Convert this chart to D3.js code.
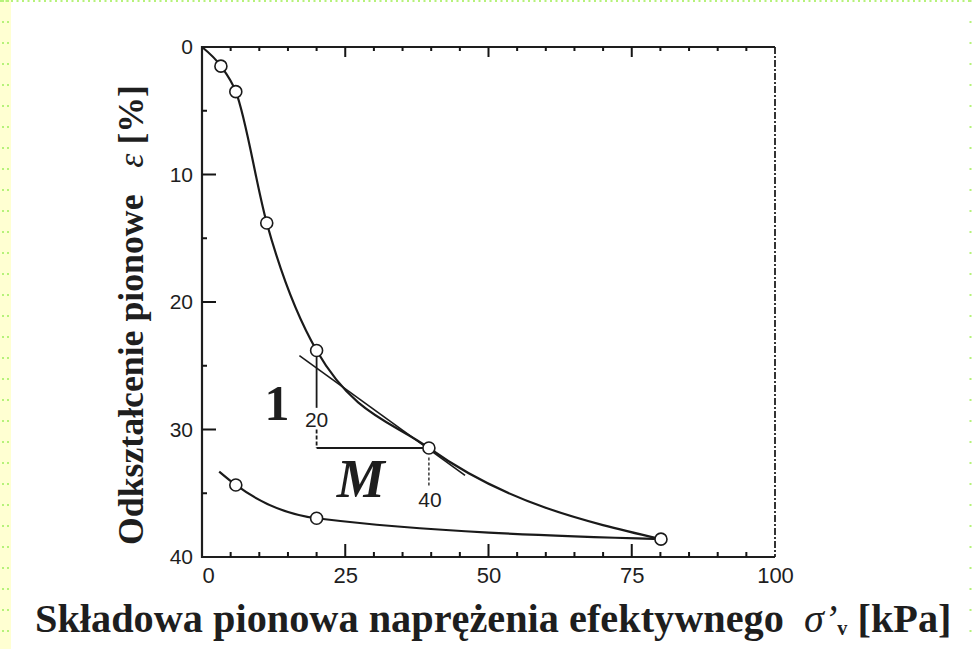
<!DOCTYPE html>
<html>
<head>
<meta charset="utf-8">
<script src="https://cdn.jsdelivr.net/npm/d3@7"></script>
<style>
  body { margin: 0; background: #fff; }
  text { fill: #1e1e1e; }
</style>
</head>
<body>
<div id="container"></div>
<script>
var width = 972, height = 649;

// loading curve (stress kPa, strain %)
var loadStress = [0, 3.3, 5.9, 11.3, 20.0, 39.6, 80.1];
var loadStrain = [0, 1.5, 3.5, 13.8, 23.8, 31.45, 38.6];
var loadMarked = [false, true, true, true, true, true, true];

// unloading curve
var unloadStress = [3.0, 5.9, 20.0, 80.1];
var unloadStrain = [33.3, 34.35, 36.96, 38.6];
var unloadMarked = [false, true, true, false];

// tangent at 40 kPa and the slope triangle
var tangentStress = [17.0, 45.9];
var tangentStrain = [24.2, 33.6];
var triStress = [20.0, 39.6];
var triStrain = [24.3, 28.3, 30.0, 31.45];
var dropStrain = [32.2, 34.5];

var xTicks = [0, 25, 50, 75, 100];
var xMajor = [25, 50, 75];
var xMinor = [5, 10, 15, 20, 30, 35, 40, 45, 55, 60, 65, 70, 80, 85, 90, 95];
var yTicks = [0, 10, 20, 30, 40];
var yMajor = [10, 20, 30];
var yMinor = [5, 15, 25, 35];

var svg = d3.select("#container")
    .append("svg")
    .attr("width", width)
    .attr("height", height);

var x = d3.scaleLinear().domain([0, 100]).range([202, 775]);
var y = d3.scaleLinear().domain([0, 40]).range([47, 557]);

// scan border
svg.append("rect").attr("x", 0).attr("y", 0).attr("width", 11).attr("height", height).attr("fill", "#ffffd2");
[[3, 0, 3, height, "2,19"], [8, 0, 8, height, "2,19"], [0, 1, width, 1, "2,3.5"], [970.5, 0, 970.5, height, "2,19"]]
    .forEach(function (d) {
        svg.append("line")
            .attr("x1", d[0]).attr("y1", d[1]).attr("x2", d[2]).attr("y2", d[3])
            .attr("stroke", "#b6f27a").attr("stroke-width", 2)
            .attr("stroke-dasharray", d[4]);
    });

// frame
svg.append("path")
    .attr("d", "M" + x(100) + "," + y(0) + "H" + x(0) + "V" + y(40) + "H" + x(100))
    .attr("fill", "none").attr("stroke", "#1e1e1e").attr("stroke-width", 2.2);
svg.append("line")
    .attr("x1", x(100)).attr("y1", y(0)).attr("x2", x(100)).attr("y2", y(40))
    .attr("stroke", "#1e1e1e").attr("stroke-width", 1.8)
    .attr("stroke-dasharray", "7,2,2,2");

// tick marks as thin filled bars, pointing into the plot
var tickG = svg.append("g").attr("fill", "#151515");
function xTickMarks(vals, y0, len) {
    tickG.selectAll(null).data(vals).enter().append("rect")
        .attr("x", function (d) { return x(d) - 1; })
        .attr("y", len < 0 ? y0 + len : y0)
        .attr("width", 2)
        .attr("height", Math.abs(len));
}
function yTickMarks(vals, len) {
    tickG.selectAll(null).data(vals).enter().append("rect")
        .attr("x", x(0))
        .attr("y", function (d) { return y(d) - 1; })
        .attr("width", len)
        .attr("height", 2);
}
xTickMarks(xMinor, y(40), -5);
xTickMarks(xMajor, y(40), -13);
xTickMarks(xMinor, y(0), 4);
xTickMarks(xMajor, y(0), 10);
yTickMarks(yMinor, 5);
yTickMarks(yMajor, 14);

// tick labels
svg.append("g").attr("transform", "translate(0," + y(40) + ")")
    .call(d3.axisBottom(x).tickValues(xTicks).tickSize(0).tickPadding(10))
    .call(function (g) { g.select(".domain").remove(); g.selectAll(".tick line").remove(); })
    .selectAll("text")
    .attr("font-family", "Liberation Sans, Arial, sans-serif")
    .attr("font-size", 22)
    .attr("fill", "#1e1e1e")
    .attr("dx", function (d) { return d === 0 ? 6 : 0; });

svg.append("g").attr("transform", "translate(" + x(0) + ",0)")
    .call(d3.axisLeft(y).tickValues(yTicks).tickSize(0).tickPadding(9))
    .call(function (g) { g.select(".domain").remove(); g.selectAll(".tick line").remove(); })
    .selectAll("text")
    .attr("font-family", "Liberation Sans, Arial, sans-serif")
    .attr("font-size", 21)
    .attr("fill", "#1e1e1e");

// curves
var line = d3.line()
    .x(function (d) { return x(d[0]); })
    .y(function (d) { return y(d[1]); })
    .curve(d3.curveMonotoneX);

var loadPts = loadStress.map(function (s, i) { return [s, loadStrain[i], loadMarked[i]]; });
var unloadPts = unloadStress.map(function (s, i) { return [s, unloadStrain[i], unloadMarked[i]]; });

svg.append("path").datum(loadPts).attr("d", line)
    .attr("fill", "none").attr("stroke", "#1a1a1a").attr("stroke-width", 2.2);
svg.append("path").datum(unloadPts).attr("d", line)
    .attr("fill", "none").attr("stroke", "#1a1a1a").attr("stroke-width", 2.2);

// tangent
svg.append("line")
    .attr("x1", x(tangentStress[0])).attr("y1", y(tangentStrain[0]))
    .attr("x2", x(tangentStress[1])).attr("y2", y(tangentStrain[1]))
    .attr("stroke", "#1a1a1a").attr("stroke-width", 1.6);

// triangle
var tri = svg.append("g").attr("stroke", "#1a1a1a").attr("stroke-width", 1.8);
tri.append("line").attr("x1", x(triStress[0])).attr("x2", x(triStress[0]))
    .attr("y1", y(triStrain[0])).attr("y2", y(triStrain[1]));
tri.append("line").attr("x1", x(triStress[0])).attr("x2", x(triStress[0]))
    .attr("y1", y(triStrain[2])).attr("y2", y(triStrain[3])).attr("stroke-dasharray", "4,2");
tri.append("line").attr("x1", x(triStress[0])).attr("x2", x(triStress[1]))
    .attr("y1", y(triStrain[3])).attr("y2", y(triStrain[3]));
tri.append("line").attr("x1", x(triStress[1])).attr("x2", x(triStress[1]))
    .attr("y1", y(dropStrain[0])).attr("y2", y(dropStrain[1]))
    .attr("stroke-width", 1.3).attr("stroke-dasharray", "3,2");

svg.append("text").attr("x", x(triStress[0])).attr("y", y(29.25)).attr("dy", "0.36em")
    .attr("text-anchor", "middle")
    .attr("font-family", "Liberation Sans, Arial, sans-serif").attr("font-size", 21)
    .text("20");
svg.append("text").attr("x", x(39.8)).attr("y", y(35.5)).attr("dy", "0.36em")
    .attr("text-anchor", "middle")
    .attr("font-family", "Liberation Sans, Arial, sans-serif").attr("font-size", 21)
    .text("40");
svg.append("text").attr("x", x(13.1)).attr("y", y(29.25))
    .attr("text-anchor", "middle")
    .attr("font-family", "Liberation Serif, Times New Roman, serif").attr("font-weight", "bold")
    .attr("font-size", 50)
    .text("1");
svg.append("text").attr("x", x(27.7)).attr("y", y(35.3))
    .attr("text-anchor", "middle")
    .attr("font-family", "Liberation Serif, Times New Roman, serif").attr("font-weight", "bold")
    .attr("font-style", "italic").attr("font-size", 54)
    .text("M");

// markers
svg.selectAll("circle.pt")
    .data(loadPts.concat(unloadPts).filter(function (d) { return d[2]; }))
    .enter().append("circle")
    .attr("class", "pt")
    .attr("cx", function (d) { return x(d[0]); })
    .attr("cy", function (d) { return y(d[1]); })
    .attr("r", 6)
    .attr("fill", "#fff").attr("stroke", "#1a1a1a").attr("stroke-width", 1.6);

// axis titles
function fitText(t, target) {
    var fs = 38;
    t.attr("font-size", fs);
    var w = t.node().getComputedTextLength();
    t.attr("font-size", fs * target / w);
}

var xt = svg.append("text")
    .attr("x", 35).attr("y", 632)
    .attr("font-family", "Liberation Serif, Times New Roman, serif")
    .attr("font-weight", "bold");
xt.append("tspan").text("Składowa pionowa naprężenia efektywnego\u00a0\u00a0");
xt.append("tspan").attr("font-style", "italic").attr("font-weight", "normal").text("σ’");
xt.append("tspan").attr("font-size", "0.5em").attr("dy", "0.15em").text("v");
xt.append("tspan").attr("dy", "-0.075em").text(" [kPa]");
fitText(xt, 917);

var yt = svg.append("text")
    .attr("transform", "translate(143,545) rotate(-90)")
    .attr("font-family", "Liberation Serif, Times New Roman, serif")
    .attr("font-weight", "bold");
yt.append("tspan").text("Odkształcenie pionowe\u00a0\u00a0\u00a0");
yt.append("tspan").attr("font-style", "italic").attr("font-weight", "normal").text("ε");
yt.append("tspan").text(" [%]");
fitText(yt, 460);
</script>
</body>
</html>
